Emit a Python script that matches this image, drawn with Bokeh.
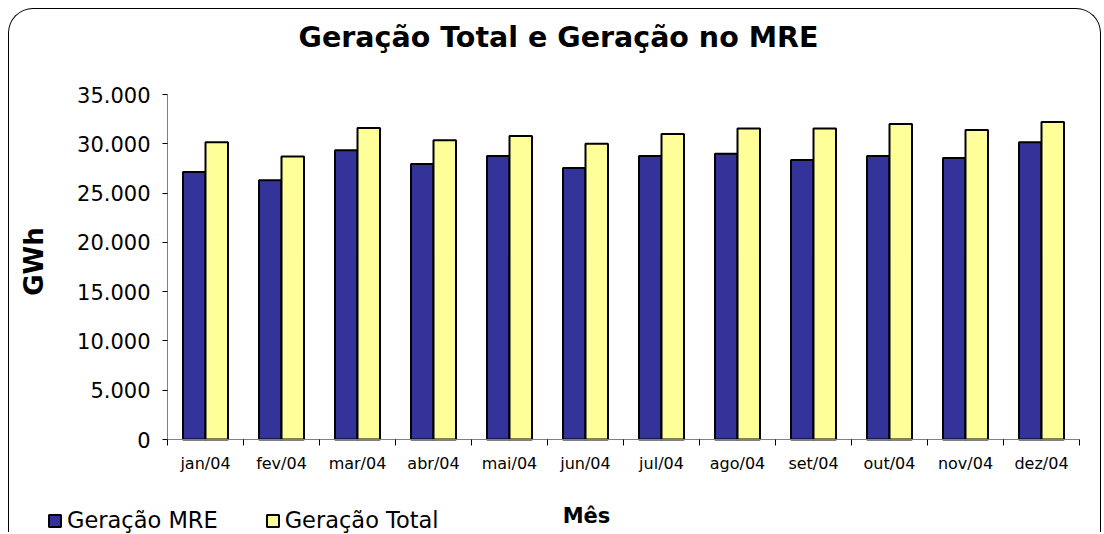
import math
from bokeh.plotting import figure
from bokeh.models import (ColumnDataSource, Range1d, FixedTicker, Legend, LegendItem,
                          Label)
from bokeh.transform import dodge
from bokeh.embed import file_html
from bokeh.resources import INLINE

# ---- data ----
months = ["jan/04", "fev/04", "mar/04", "abr/04", "mai/04", "jun/04",
          "jul/04", "ago/04", "set/04", "out/04", "nov/04", "dez/04"]
geracao_mre = [27150, 26300, 29350, 27950, 28750, 27550,
               28750, 29000, 28350, 28750, 28550, 30150]
geracao_total = [30150, 28700, 31600, 30350, 30800, 30000,
                 31000, 31550, 31550, 32000, 31400, 32200]
y_ticks = [0, 5000, 10000, 15000, 20000, 25000, 30000, 35000]
title_text = "Geração Total e Geração no MRE"
y_title = "GWh"
x_title = "Mês"

FONT = "DejaVu Sans"
n = len(months)
positions = list(range(1, n + 1))
src = ColumnDataSource(dict(pos=positions, month=months,
                            mre=geracao_mre, total=geracao_total))

# ---- layout (pixels): the whole canvas is the frame, axes sit inside it ----
W, H = 1093, 524
CANVAS_LEFT, CANVAS_TOP = 9, 9                 # page position of canvas
PLOT_L, PLOT_R, PLOT_T, PLOT_B = 167, 1079, 94, 439  # plot area in page px
YMAX = 35000
ppx = (PLOT_R - PLOT_L) / n                    # px per category
ppy = (PLOT_B - PLOT_T) / YMAX                 # px per GWh
x0 = 0.5 - (PLOT_L - CANVAS_LEFT) / ppx
x1 = n + 0.5 + (CANVAS_LEFT + W - PLOT_R) / ppx
y1 = YMAX + (PLOT_T - CANVAS_TOP) / ppy
y0 = -(CANVAS_TOP + H - PLOT_B) / ppy

p = figure(width=W, height=H, output_backend="svg", toolbar_location=None,
           title=None, x_range=Range1d(x0, x1), y_range=Range1d(y0, y1),
           min_border=0,
           styles={"margin-left": "8px", "margin-top": "8px",
                   "border": "1px solid black", "border-bottom": "none",
                   "border-radius": "25px 25px 0 0"})
p.border_fill_color = None
p.background_fill_color = None
p.outline_line_color = None
p.xgrid.visible = False
p.ygrid.visible = False

bw = 0.296
r1 = p.vbar(x=dodge("pos", -bw / 2, range=p.x_range), top="mre", width=bw,
            source=src, fill_color="#333399", line_color="black", line_width=2)
r2 = p.vbar(x=dodge("pos", bw / 2, range=p.x_range), top="total", width=bw,
            source=src, fill_color="#FFFF99", line_color="black", line_width=2)

# y axis
ya = p.yaxis[0]
ya.fixed_location = 0.5
ya.bounds = (0, YMAX)
ya.ticker = FixedTicker(ticks=y_ticks)
ya.major_label_overrides = {t: f"{t:,}".replace(",", ".") for t in y_ticks}
ya.major_tick_out = 5
ya.major_tick_in = 0
ya.minor_tick_out = 0
ya.minor_tick_in = 0
ya.axis_line_color = "#808080"
ya.major_tick_line_color = "black"
ya.major_label_text_font = FONT
ya.major_label_text_font_size = "21px"
ya.major_label_text_color = "black"
ya.major_label_standoff = 12

# x axis
xa = p.xaxis[0]
xa.fixed_location = 0
xa.bounds = (0.5, n + 0.5)
xa.ticker = FixedTicker(ticks=positions,
                        minor_ticks=[i + 0.5 for i in range(n + 1)])
xa.major_label_overrides = {pos: m for pos, m in zip(positions, months)}
xa.major_tick_out = 0
xa.major_tick_in = 0
xa.minor_tick_out = 6
xa.minor_tick_in = 0
xa.minor_tick_line_color = "black"
xa.axis_line_color = "#808080"
xa.major_label_text_font = FONT
xa.major_label_text_font_size = "16px"
xa.major_label_text_color = "black"
xa.major_label_standoff = 8

# texts (screen px measured from the frame's bottom-left corner)
bottom = CANVAS_TOP + H
p.add_layout(Label(x=558 - CANVAS_LEFT, y=bottom - 37, x_units="screen",
                   y_units="screen", text=title_text, text_align="center",
                   text_baseline="alphabetic", text_font=FONT,
                   text_font_size="28.5px", text_font_style="bold",
                   text_color="black"))
p.add_layout(Label(x=33 - CANVAS_LEFT, y=bottom - 261, x_units="screen",
                   y_units="screen", text=y_title, angle=math.pi / 2,
                   text_align="center", text_baseline="middle", text_font=FONT,
                   text_font_size="26px", text_font_style="bold",
                   text_color="black"))
p.add_layout(Label(x=586 - CANVAS_LEFT, y=bottom - 515, x_units="screen",
                   y_units="screen", text=x_title, text_align="center",
                   text_baseline="alphabetic", text_font=FONT,
                   text_font_size="21px", text_font_style="bold",
                   text_color="black"))

legend = Legend(items=[LegendItem(label="Geração MRE", renderers=[r1]),
                       LegendItem(label="Geração Total", renderers=[r2])],
                location=(47 - CANVAS_LEFT, 0), orientation="horizontal",
                padding=0, margin=0, spacing=47, label_standoff=5,
                glyph_width=15, glyph_height=15,
                label_text_font=FONT, label_text_font_size="22.5px",
                label_text_color="black",
                border_line_color=None, background_fill_alpha=0)
p.add_layout(legend)

open("out.html", "w").write(file_html(p, INLINE))
